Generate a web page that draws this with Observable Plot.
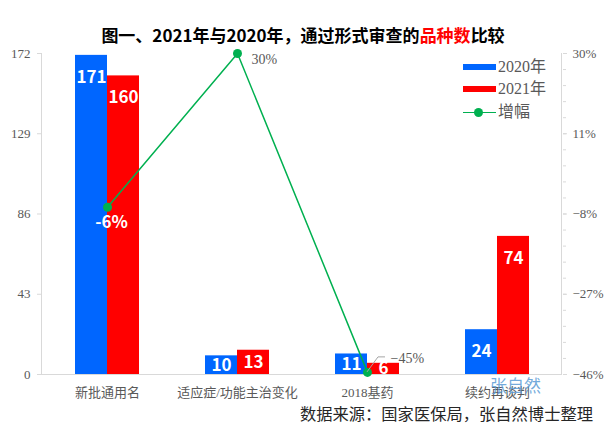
<!DOCTYPE html>
<html><head><meta charset="utf-8">
<script src="https://cdn.jsdelivr.net/npm/d3@7"></script>
<script src="https://cdn.jsdelivr.net/npm/@observablehq/plot@0.6"></script>
<style>
body{margin:0;background:#fff;width:606px;height:426px;overflow:hidden;position:relative;font-family:"Noto Sans CJK SC",sans-serif}
#title{height:48px;box-sizing:border-box;padding-top:25px;line-height:20px;text-align:center;font-weight:bold;font-size:17px;color:#000;white-space:nowrap}
#title .hl{color:#ff0000}
#chart svg{display:block}
#caption{height:26px;line-height:26px;text-align:right;padding-right:13px;font-size:16.3px;color:#262626;white-space:nowrap}
.lg{position:absolute;left:463px;width:33px;height:6px}
.lt{position:absolute;left:498px;font-family:"Liberation Serif","Noto Sans CJK SC",serif;font-size:16px;color:#595959;line-height:20px}
</style></head>
<body>
<div id="title">图一、2021年与2020年，通过形式审查的<span class="hl">品种数</span>比较</div>
<div id="chart"></div>
<div id="caption">数据来源：国家医保局，张自然博士整理</div>
<div class="lg" style="top:64px;background:#0066ff"></div><div class="lt" style="top:57px">2020年</div>
<div class="lg" style="top:86px;background:#ff0000"></div><div class="lt" style="top:79px">2021年</div>
<div class="lg" style="top:112px;height:0;border-top:1.5px solid #00b050"></div>
<div style="position:absolute;left:474px;top:108px;width:9px;height:9px;border-radius:50%;background:#00b050"></div>
<div class="lt" style="top:102px">增幅</div>
<script>
const categories = ["新批通用名", "适应症/功能主治变化", "2018基药", "续约再谈判"];
const values2020 = [171, 10, 11, 24];
const values2021 = [160, 13, 6, 74];
const growthPct = [-6.4, 30, -45.5, null];
const growthLabels = ["-6%", "30%", "−45%", null];
const leftTicks = [0, 43, 86, 129, 172];
const rightTicks = [30, 11, -8, -27, -46];
const rightMinorStep = 3.8;
const watermark = "张自然";

const leftMax = 172, rightMin = -46, rightMax = 30;
const toLeft = g => (g - rightMin) / (rightMax - rightMin) * leftMax;
const fromLeft = v => v / leftMax * (rightMax - rightMin) + rightMin;
const pct = g => `${Math.round(g)}%`.replace("-", "−");
const rightMinor = d3.range(0, 21).map(i => rightMax - i * rightMinorStep);

const rows = categories.map((c, i) => ({cat: c, a: values2020[i], b: values2021[i], g: growthPct[i], gl: growthLabels[i]}));
const lineRows = rows.filter(d => d.g != null);
const BIG = 20;
const numFont = "'Noto Sans CJK SC', sans-serif";
const serif = "'Liberation Serif', 'Noto Sans CJK SC', serif";

const plot = Plot.plot({
  width: 606, height: 352,
  marginTop: 5, marginBottom: 26, marginLeft: 41, marginRight: 44,
  style: {fontFamily: serif, fontSize: "13px", background: "transparent", overflow: "visible"},
  x: {type: "band", domain: categories, paddingInner: 0.509, paddingOuter: 0.2545, axis: null, label: null},
  y: {domain: [0, leftMax], axis: null, label: null},
  marks: [
    Plot.barY(rows, {x: "cat", y: "a", fill: "#0066ff", insetRight: 32}),
    Plot.barY(rows, {x: "cat", y: "b", fill: "#ff0000", insetLeft: 32}),
    Plot.ruleY([0], {stroke: "#d9d9d9"}),
    Plot.axisY(leftTicks, {anchor: "left", label: null, tickSize: 4, tickPadding: 7, stroke: "#d9d9d9", fill: "#595959", fontSize: 13}),
    Plot.axisY(rightMinor.map(toLeft), {anchor: "right", label: null, tickSize: 3, tickFormat: () => "", stroke: "#d9d9d9"}),
    Plot.axisY(rightTicks.map(toLeft), {anchor: "right", label: null, tickSize: 4, tickPadding: 6, tickFormat: v => pct(fromLeft(v)), stroke: "#d9d9d9", fill: "#595959", fontSize: 13}),
    Plot.axisX({label: null, tickSize: 0, tickPadding: 13, fill: "#595959", fontSize: 13}),
    Plot.text(rows.filter(d => d.a >= BIG), {x: "cat", y: "a", text: d => String(d.a), dx: -16, dy: 22, fill: "white", fontWeight: "bold", fontSize: 17, fontFamily: numFont}),
    Plot.text(rows.filter(d => d.a < BIG), {x: "cat", y: d => d.a / 2, text: d => String(d.a), dx: -16, fill: "white", fontWeight: "bold", fontSize: 17, fontFamily: numFont}),
    Plot.text(rows.filter(d => d.b >= BIG), {x: "cat", y: "b", text: d => String(d.b), dx: 16, dy: 22, fill: "white", fontWeight: "bold", fontSize: 17, fontFamily: numFont}),
    Plot.text(rows.filter(d => d.b < BIG), {x: "cat", y: d => d.b / 2, text: d => String(d.b), dx: 16, fill: "white", fontWeight: "bold", fontSize: 17, fontFamily: numFont}),
    Plot.line(lineRows, {x: "cat", y: d => toLeft(d.g), stroke: "#00b050", strokeWidth: 1.5}),
    Plot.dot(lineRows, {x: "cat", y: d => toLeft(d.g), r: 4.5, fill: "#00b050"}),
    Plot.text(lineRows.slice(0, 1), {x: "cat", y: d => toLeft(d.g), text: "gl", dx: 4, dy: 15, fill: "white", fontWeight: "bold", fontSize: 17, fontFamily: numFont}),
    Plot.text(lineRows.slice(1, 2), {x: "cat", y: d => toLeft(d.g), text: "gl", dx: 14, dy: 6, textAnchor: "start", fill: "#595959", fontSize: 14, fontFamily: serif}),
    Plot.text(lineRows.slice(2, 3), {x: "cat", y: d => toLeft(d.g), text: "gl", dx: 23, dy: -14, textAnchor: "start", fill: "#595959", fontSize: 14, fontFamily: serif}),
    Plot.text([watermark], {x: () => categories[3], y: () => 0, text: d => d, dx: 18, dy: 12, fill: "#5b9bd5", fillOpacity: 0.85, fontSize: 17, fontFamily: "'Noto Sans CJK SC', sans-serif"})
  ]
});

// axis lines and leader line, positioned through the plot's scales
const sx = plot.scale("x"), sy = plot.scale("y");
const svg = d3.select(plot);
const [xl, xr] = sx.range;
const y0 = sy.apply(0), y1 = sy.apply(leftMax);
const g = svg.append("g").attr("stroke", "#d9d9d9").attr("fill", "none");
g.append("path").attr("d", `M${xl + 0.5},${y1}V${y0}`);
g.append("path").attr("d", `M${xr - 0.5},${y1}V${y0}`);
const ld = lineRows[2];
const lx = sx.apply(ld.cat) + sx.bandwidth / 2, ly = sy.apply(toLeft(ld.g));
svg.append("path").attr("d", `M${lx},${ly}L${lx + 11},${ly - 15}H${lx + 18}`).attr("stroke", "#a6a6a6").attr("fill", "none");
document.getElementById("chart").appendChild(plot);
</script>
</body></html>
